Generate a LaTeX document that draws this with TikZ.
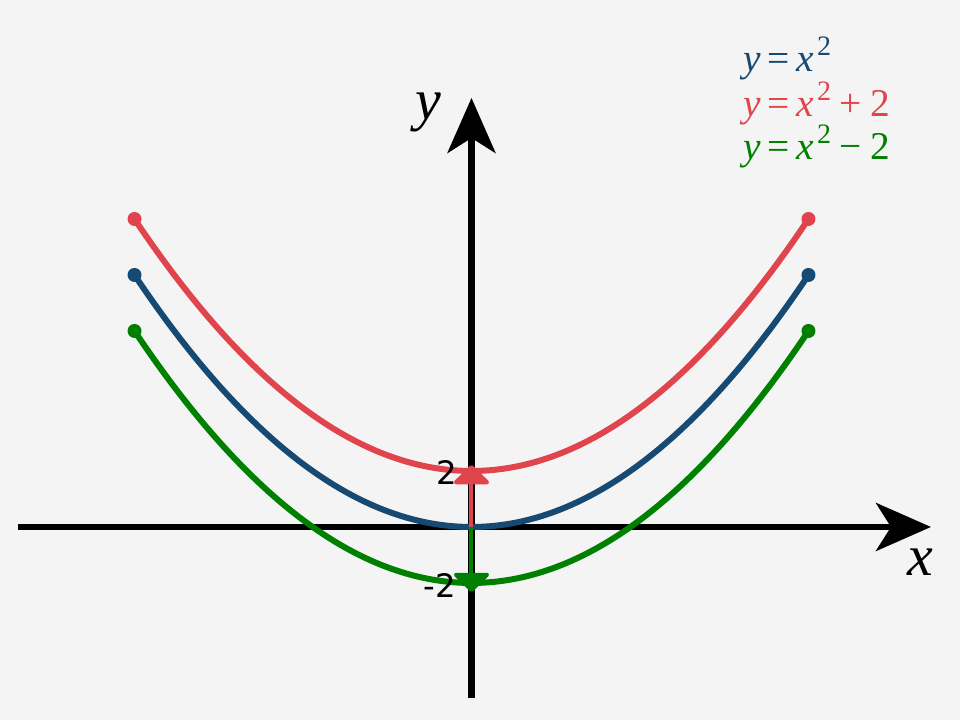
\documentclass[tikz,border=0pt]{standalone}
\usepackage{fontspec}
\setmainfont{Liberation Serif}
\newfontfamily\dvs{DejaVu Sans}
\usetikzlibrary{arrows.meta}
\definecolor{bg}{HTML}{F4F4F4}
\definecolor{cblue}{HTML}{174A73}
\definecolor{cred}{HTML}{E0444C}
\definecolor{cgreen}{HTML}{008000}
\newcommand{\sqr}{\kern0.08em\raisebox{0.42em}{\fontsize{8}{8}\selectfont 2}}
\newcommand{\opgap}{\kern0.22em}
\begin{document}
\begin{tikzpicture}
\fill[bg] (0,0) rectangle (9.6,7.2);
\useasboundingbox (0,0) rectangle (9.6,7.2);
\tikzset{
  axis/.style={line width=0.065cm, -{Stealth[length=0.55cm,width=0.48cm,inset=0.15cm]}},
  curve/.style={line width=0.06cm},
  shiftarrow/.style={line width=0.04cm, -{Triangle[length=0.2cm,width=0.4cm,round]}},
  dot/.style={circle, fill, inner sep=0pt, minimum size=0.14cm},
  axlab/.style={inner sep=0pt, font=\fontsize{16.5}{16.5}\selectfont\itshape},
  numlab/.style={inner sep=0pt, font=\dvs\fontsize{9.2}{9.2}\selectfont},
  leg/.style={inner sep=0pt, anchor=base west, font=\fontsize{11.2}{12}\selectfont}
}
\coordinate (xs) at (0.18,1.93);
\coordinate (xe) at (9.31,1.93);
\coordinate (ys) at (4.715,0.22);
\coordinate (ye) at (4.715,6.22);
\draw[axis] (xs) -- (xe);
\draw[axis] (ys) -- (ye);
\begin{scope}[shift={(4.715,1.93)}, x=1.1233cm, y=0.28cm]
  \draw[curve, cred] plot[domain=-3:3, samples=120, smooth] (\x, {\x*\x+2});
  \draw[curve, cblue] plot[domain=-3:3, samples=120, smooth] (\x, {\x*\x});
  \draw[curve, cgreen] plot[domain=-3:3, samples=120, smooth] (\x, {\x*\x-2});
  \node[dot, cred] (rl) at (-3,11) {};
  \node[dot, cred] (rr) at (3,11) {};
  \node[dot, cblue] (bl) at (-3,9) {};
  \node[dot, cblue] (br) at (3,9) {};
  \node[dot, cgreen] (gl) at (-3,7) {};
  \node[dot, cgreen] (gr) at (3,7) {};
  \coordinate (o) at (0,0);
  \coordinate (rtip) at (0,2.21);
  \coordinate (gtip) at (0,-2.32);
  \draw[shiftarrow, cred] (o) -- (rtip);
  \draw[shiftarrow, cgreen] (o) -- (gtip);
\end{scope}
\node[axlab] (ylab) at (4.28,6.08) {y};
\node[axlab] (xlab) at (9.2,1.58) {x};
\node[numlab] (two) at (4.47,2.47) {2};
\node[numlab] (mtwo) at (4.40,1.34) {-2};
\node[leg, cblue] (l1) at (7.43,6.48) {\textit{y}\,=\,\textit{x}\sqr};
\node[leg, cred] (l2) at (7.43,6.03) {\textit{y}\,=\,\textit{x}\sqr\opgap+\opgap 2};
\node[leg, cgreen] (l3) at (7.43,5.60) {\textit{y}\,=\,\textit{x}\sqr\opgap\textminus\opgap 2};
\end{tikzpicture}
\end{document}
